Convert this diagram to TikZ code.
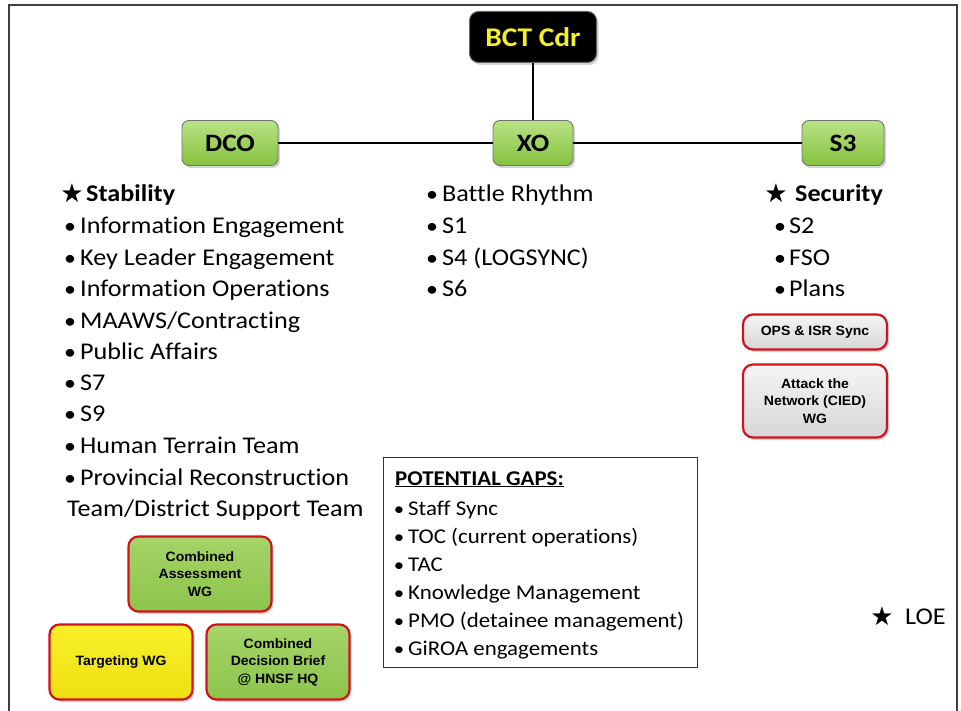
\documentclass[tikz,border=0pt]{standalone}
\usepackage{fontspec}
\setmainfont{Carlito}[FakeStretch=1.09, Ligatures=NoCommon]
\newfontfamily\gapf{Carlito}[FakeStretch=1.09, Ligatures=NoCommon]
\newfontfamily\arialf{Liberation Sans}[FakeStretch=1.04]
\newfontfamily\symf{DejaVu Sans}
\usetikzlibrary{shadows}
\definecolor{gtop}{HTML}{B9E284}
\definecolor{gbot}{HTML}{86C240}
\definecolor{rtop}{HTML}{A6D468}
\definecolor{rbot}{HTML}{8CC44C}
\definecolor{ytop}{HTML}{F8F02A}
\definecolor{ybot}{HTML}{EEE010}
\definecolor{btxt}{HTML}{F2EE2A}
\definecolor{redline}{HTML}{D0141E}
\tikzset{
  shad/.style={drop shadow={opacity=0.35, shadow xshift=2pt, shadow yshift=-2.5pt}},
  topbox/.style={rounded corners=7pt, draw=black!55, line width=0.9pt, shad,
    top color=gtop, bottom color=gbot, minimum width=96pt, minimum height=45pt,
    inner sep=0pt, font=\bfseries\fontsize{25}{28}\selectfont},
  cdrbox/.style={rounded corners=9pt, draw=black!60, line width=1pt, shad,
    fill=black, minimum width=127pt, minimum height=51pt, inner sep=0pt,
    text=btxt, font=\bfseries\fontsize{27}{30}\selectfont},
  wgbox/.style={rounded corners=10pt, draw=redline, line width=2.2pt, shad,
    align=center, inner sep=0pt, minimum width=143pt, minimum height=75pt,
    font=\arialf\bfseries\fontsize{13.5}{17.5}\selectfont},
  greenwg/.style={wgbox, top color=rtop, bottom color=rbot},
  graywg/.style={wgbox, top color=white!96!black, bottom color=black!16},
  yellowwg/.style={wgbox, top color=ytop, bottom color=ybot},
  link/.style={line width=2.4pt, draw=black},
  txt/.style={anchor=base west, inner sep=0pt, font=\fontsize{24}{29}\selectfont},
  gtxt/.style={anchor=base west, inner sep=0pt, font=\gapf\fontsize{21}{24}\selectfont},
  blt/.style={anchor=base, inner sep=0pt, font=\fontsize{22}{29}\selectfont},
  gblt/.style={anchor=base, inner sep=0pt, font=\gapf\fontsize{19}{24}\selectfont},
  starf/.style={anchor=base, inner sep=0pt, font=\symf\fontsize{26}{28}\selectfont}
}
\begin{document}
\begin{tikzpicture}[x=1pt,y=-1pt]
\useasboundingbox (0,0) rectangle (961,711);
% frame
\draw[line width=1.6pt, draw=black!75] (9,715) -- (9,5) -- (957,5) -- (957,715);

% top hierarchy
\node[cdrbox] (bct) at (533,37) {BCT Cdr};
\node[topbox] (dco) at (230,143) {DCO};
\node[topbox, minimum width=80pt] (xo) at (533,143) {XO};
\node[topbox, minimum width=82pt] (s3) at (843,143) {S3};
\draw[link] (bct) -- (xo);
\draw[link] (dco) -- (xo);
\draw[link] (xo) -- (s3);

% left column
\node[starf] (st1) at (72,203) {★};
\node[txt, font=\bfseries\fontsize{24}{29}\selectfont] (stab) at (86,202) {Stability};
\foreach \t/\yy [count=\i] in {Information Engagement/234, Key Leader Engagement/266, Information Operations/297, MAAWS\slash Contracting/328, Public Affairs/359, S7/390, S9/421, Human Terrain Team/453, Provincial Reconstruction/485}{
  \node[blt] (lb\i) at (70,\yy) {•};
  \node[txt] (lt\i) at (80,\yy) {\t};
}
\node[txt] (lt10) at (67,516) {Team/District Support Team};

% middle column
\foreach \t/\yy [count=\i] in {Battle Rhythm/202, S1/234, S4 (LOGSYNC)/266, S6/297}{
  \node[blt] (mb\i) at (432,\yy) {•};
  \node[txt] (mt\i) at (442,\yy) {\t};
}

% right column
\node[starf] (st2) at (776,203) {★};
\node[txt, font=\bfseries\fontsize{24}{29}\selectfont] (sec) at (795,202) {Security};
\foreach \t/\yy [count=\i] in {S2/234, FSO/266, Plans/297}{
  \node[blt] (rb\i) at (780,\yy) {•};
  \node[txt] (rt\i) at (789,\yy) {\t};
}
\node[graywg, minimum width=144pt, minimum height=35pt] (ops) at (815,332) {OPS \& ISR Sync};
\node[graywg, minimum width=144pt, minimum height=73pt] (atn) at (815,401) {Attack the\\Network (CIED)\\WG};

% bottom-left working groups
\node[greenwg] (caw) at (200,574) {Combined\\Assessment\\WG};
\node[yellowwg] (tgt) at (121,662) {Targeting WG};
\node[greenwg] (cdb) at (278,662) {Combined\\Decision Brief\\@ HNSF HQ};

% potential gaps
\node[draw=black!80, line width=1pt, minimum width=314pt, minimum height=210pt, inner sep=0pt] (gaps) at (540,562) {};
\node[anchor=base west, inner sep=0pt, font=\gapf\bfseries\fontsize{21}{24}\selectfont] (gt) at (395,485) {\underline{POTENTIAL GAPS:}};
\foreach \t/\yy [count=\i] in {Staff Sync/515, TOC (current operations)/543, TAC/571, Knowledge Management/599, PMO (detainee management)/627, GiROA engagements/655}{
  \node[gblt] (gb\i) at (399,\yy) {•};
  \node[gtxt] (gl\i) at (408,\yy) {\t};
}

% legend
\node[starf] (st3) at (882,625) {★};
\node[txt] (loe) at (905,624) {LOE};
\end{tikzpicture}
\end{document}
